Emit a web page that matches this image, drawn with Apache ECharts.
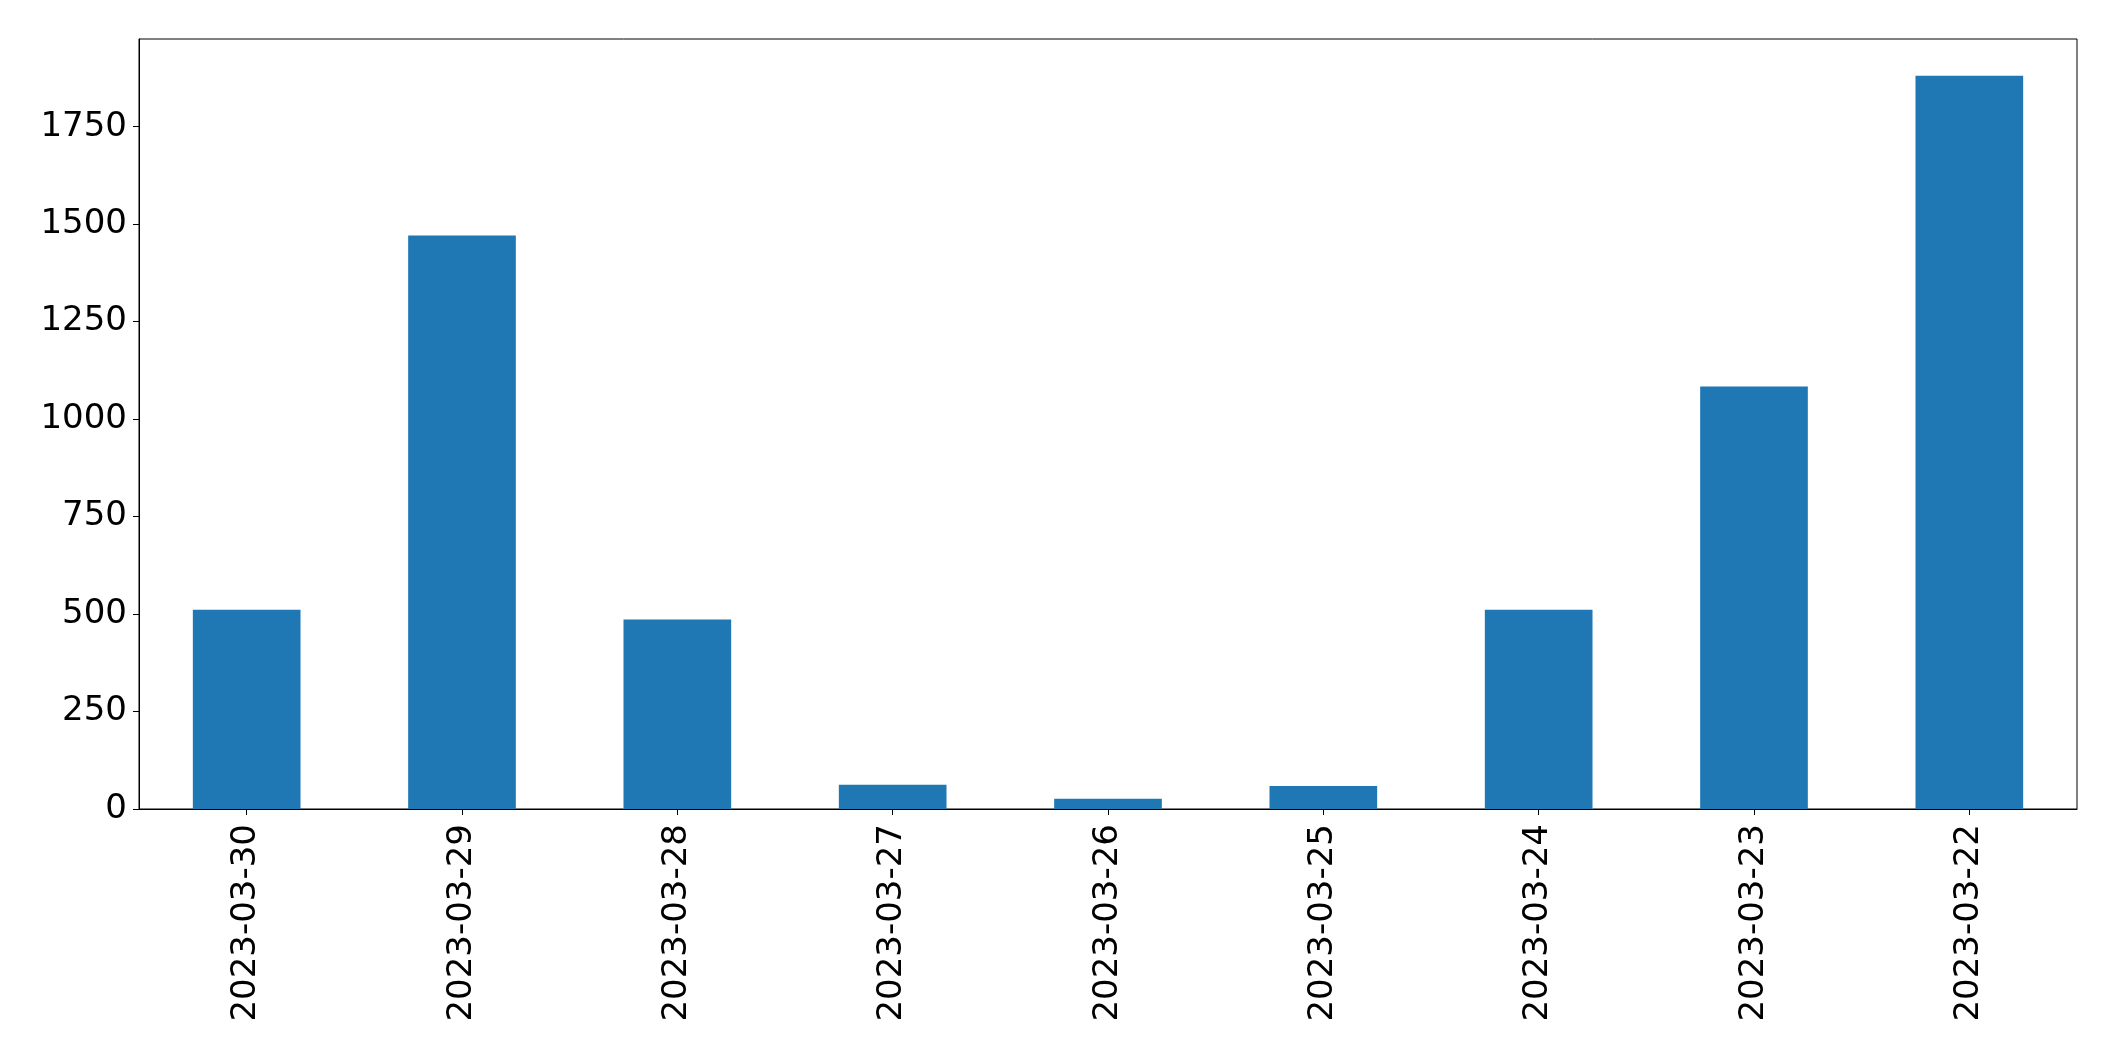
<!DOCTYPE html>
<html>
<head>
<meta charset="utf-8">
<script src="https://cdn.jsdelivr.net/npm/echarts@6/dist/echarts.min.js"></script>
<style>
html,body{margin:0;padding:0;background:#fff;}
#c{width:2115px;height:1061px;}
</style>
</head>
<body>
<div id="c"></div>
<script>
const categories = ['2023-03-30','2023-03-29','2023-03-28','2023-03-27','2023-03-26','2023-03-25','2023-03-24','2023-03-23','2023-03-22'];
const values = [511, 1471, 486, 62, 26, 59, 511, 1084, 1881];
const yTicks = [0, 250, 500, 750, 1000, 1250, 1500, 1750];
const yMax = 1975;

const chart = echarts.init(document.getElementById('c'), null, {renderer: 'canvas'});
chart.setOption({
  animation: false,
  backgroundColor: '#ffffff',
  grid: {
    left: 139, top: 39, right: 38, bottom: 252,
    show: true, borderColor: '#000', borderWidth: 1, backgroundColor: 'transparent'
  },
  xAxis: {
    type: 'category',
    data: categories,
    axisLine: {show: true, lineStyle: {color: '#000', width: 1}},
    axisTick: {show: true, alignWithLabel: true, length: 6, lineStyle: {color: '#000', width: 1}},
    axisLabel: {rotate: 90, margin: 15, fontFamily: 'DejaVu Sans', fontSize: 34, color: '#000', interval: 0},
    splitLine: {show: false}
  },
  yAxis: {
    type: 'value',
    min: 0, max: yMax,
    axisLine: {show: true, lineStyle: {color: '#000', width: 1}},
    axisTick: {show: true, length: 6, lineStyle: {color: '#000', width: 1}, customValues: yTicks},
    axisLabel: {margin: 12, fontFamily: 'DejaVu Sans', fontSize: 34, color: '#000', customValues: yTicks,
      formatter: function (v) { return String(v); }},
    splitLine: {show: false}
  },
  series: [{
    type: 'bar',
    data: values,
    barWidth: '50%',
    itemStyle: {color: '#1f77b4'}
  }]
});
</script>
</body>
</html>
